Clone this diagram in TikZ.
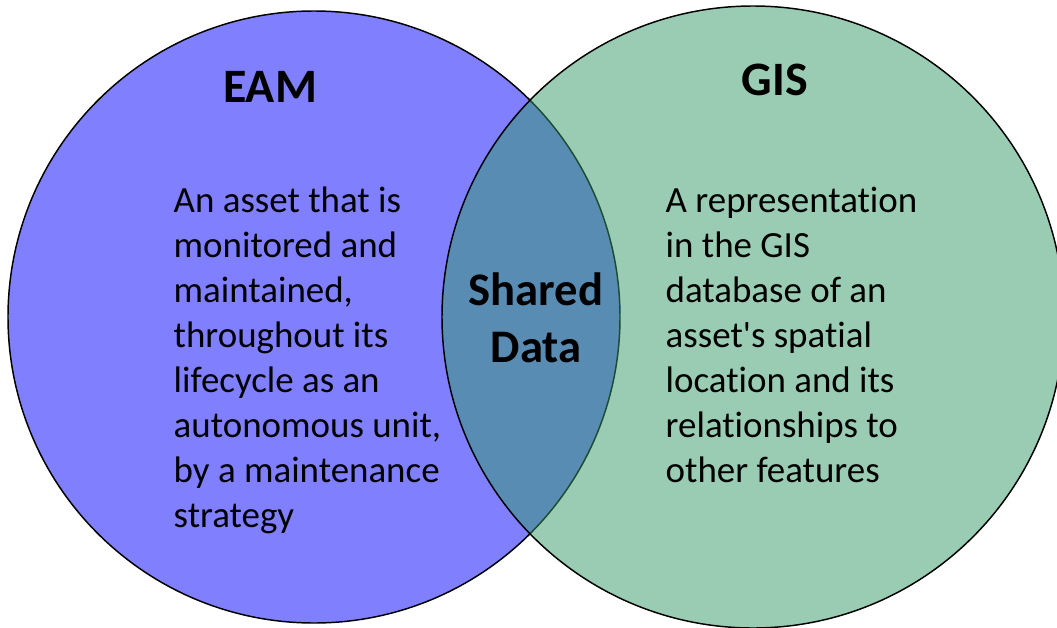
\documentclass[tikz,border=0pt]{standalone}
\usepackage{fontspec}
\setmainfont{Carlito}[Ligatures={NoCommon,NoRequired,NoContextual}]
\usetikzlibrary{positioning}

\definecolor{eamblue}{RGB}{128,128,255}
\definecolor{gisgreen}{RGB}{51,153,102}

\begin{document}
\begin{tikzpicture}[x=0.75pt, y=-0.75pt, line width=1.1pt,
  title/.style={font=\fontsize{36}{40}\selectfont\bfseries},
  body/.style={font=\fontsize{27.7}{33.75}\selectfont, align=left, inner sep=0pt, anchor=north west}]
\useasboundingbox (0,0) rectangle (1057,628);

\node [circle, draw, fill=eamblue, inner sep=0pt, minimum size=459pt] (eam) at (314,317) {};
\node [circle, draw, fill=gisgreen, fill opacity=.5, inner sep=0pt, minimum size=466.5pt] (gis) at (753,317) {};

\node [title] (eamtitle) at (270,87) {EAM};
\node [title] (gistitle) at (775,80) {GIS};
\node [font=\fontsize{35}{43}\selectfont\bfseries, align=center] (shared) at (536,318) {Shared\\Data};

\node [body] (eamtext) at (173,186) {An asset that is\\monitored and\\maintained,\\throughout its\\lifecycle as an\\autonomous unit,\\by a maintenance\\strategy};
\node [body] (gistext) at (665,186) {A representation\\in the GIS\\database of an\\asset\textquotesingle s spatial\\location and its\\relationships to\\other features};
\end{tikzpicture}
\end{document}
